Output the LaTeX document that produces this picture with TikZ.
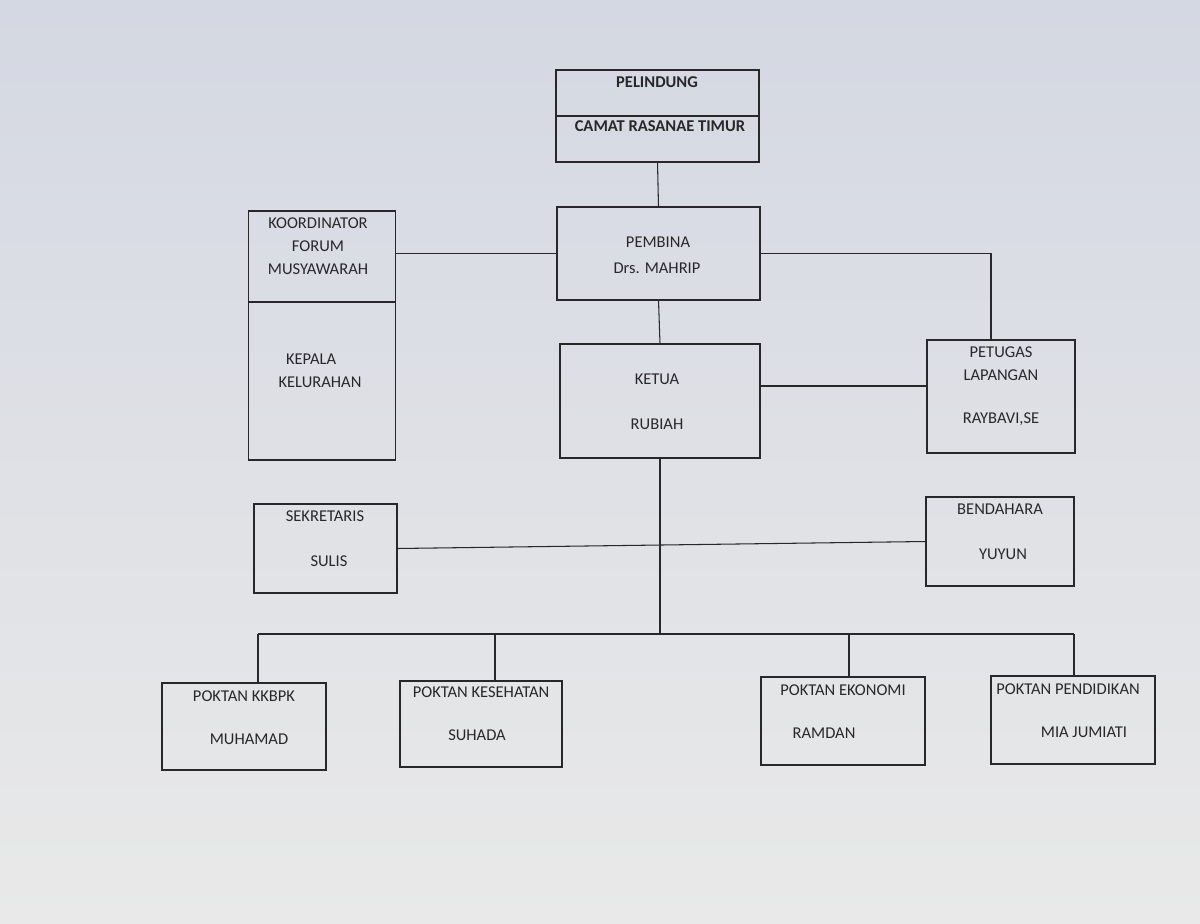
\documentclass[tikz,border=0pt]{standalone}
\usepackage{fontspec}
\setmainfont{Carlito}
\usepackage{tikz}
\usetikzlibrary{positioning}
\definecolor{screen}{RGB}{226,228,234}
\definecolor{screentop}{RGB}{212,216,226}
\definecolor{screenbot}{RGB}{233,233,233}
\definecolor{ink}{RGB}{40,40,42}
\tikzset{unit/.style={draw=ink,line width=0.75pt,inner sep=0pt,outer sep=0pt},
         unitthick/.style={unit,line width=1.4pt},
         lbl/.style={inner sep=0pt,text=ink,font=\fontsize{9.4}{13}\selectfont},
         lblbold/.style={lbl,font=\fontsize{9.4}{13}\selectfont\bfseries},
         link/.style={draw=ink,line width=0.6pt},
        }

\begin{document}
\begin{tikzpicture}[x=0.02cm,y=-0.02cm]
        \useasboundingbox[top color=screentop,bottom color=screenbot](0,0) rectangle (1200,923);

        % top of the chart
        \node[unit,minimum width=4.06cm,minimum height=1.84cm](pel)at(657.5,116){};
        \draw[link,line width=0.75pt](pel.west)--(pel.east);
        \node[lblbold](pelA)at(657,82){PELINDUNG};
        \node[lblbold](pelB)at(660,126){CAMAT RASANAE TIMUR};

        \node[unit,minimum width=4.06cm,minimum height=1.86cm](pem)at(658.5,253.5){};
        \node[lbl](pemA)at(658,242){PEMBINA};
        \node[lbl](pemB)at(657,268){Drs. MAHRIP};

        \node[unit,minimum width=2.94cm,minimum height=1.82cm](koord)at(322,256.5){};
        \node[unit,minimum width=2.94cm,minimum height=3.16cm,below=0pt of koord](kep){};
        \node[lbl,align=center](koordA)at(318,246){KOORDINATOR\\FORUM\\MUSYAWARAH};
        \node[lbl,align=left](kepA)at(320,371){\hspace*{0.15cm}KEPALA\\KELURAHAN};

        \node[unit,minimum width=4cm,minimum height=2.28cm](ket)at(660,401){};
        \node[lbl](ketA)at(657,379){KETUA};
        \node[lbl](ketB)at(657,424){RUBIAH};

        \node[unit,minimum width=2.96cm,minimum height=2.26cm](pet)at(1001,396.5){};
        \node[lbl,align=center](petA)at(1001,364){PETUGAS\\LAPANGAN};
        \node[lbl](petB)at(1001,419){RAYBAVI,SE};

        \node[unitthick,minimum width=2.86cm,minimum height=1.78cm](sek)at(325.5,548.5){};
        \node[lbl](sekA)at(325,516){SEKRETARIS};
        \node[lbl](sekB)at(329,561){SULIS};

        \node[unitthick,minimum width=2.96cm,minimum height=1.78cm](bend)at(1000,541.5){};
        \node[lbl](bendA)at(1000,509){BENDAHARA};
        \node[lbl](bendB)at(1003,554){YUYUN};

        % poktan row
        \node[unitthick,minimum width=3.28cm,minimum height=1.74cm](kk)at(244,726.5){};
        \node[lbl](kkA)at(244,696){POKTAN KKBPK};
        \node[lbl](kkB)at(249,739){MUHAMAD};

        \node[unitthick,minimum width=3.24cm,minimum height=1.72cm](kes)at(481,724){};
        \node[lbl](kesA)at(481,692){POKTAN KESEHATAN};
        \node[lbl](kesB)at(477,735){SUHADA};

        \node[unitthick,minimum width=3.28cm,minimum height=1.76cm](eko)at(843,721){};
        \node[lbl](ekoA)at(843,690){POKTAN EKONOMI};
        \node[lbl](ekoB)at(824,733){RAMDAN};

        \node[unitthick,minimum width=3.28cm,minimum height=1.76cm](pend)at(1073,720){};
        \node[lbl](pendA)at(1068,689){POKTAN PENDIDIKAN};
        \node[lbl](pendB)at(1084,732){MIA JUMIATI};

        % lines
        \draw[link](pel.south)--(pem.north);
        \draw[link](pem.south)--(ket.north);
        \draw[link](pem.west)--(pem.west -| koord.east);
        \draw[link](pem.east)-|([xshift=-0.2cm]pet.north);
        \draw[link]([yshift=0.3cm]ket.east)--([yshift=0.3cm]ket.east -| pet.west);
        \draw[link](sek.east)--(bend.west);

        \coordinate(bus)at(660,634);
        \coordinate(tapA)at(258,634);
        \coordinate(tapB)at(495,634);
        \coordinate(tapC)at(849,634);
        \coordinate(tapD)at(1074,634);
        \draw[link](ket.south)--(bus);
        \draw[link](tapA)--(tapD);
        \foreach \t/\b in {tapA/kk,tapB/kes,tapC/eko,tapD/pend}
            \draw[link](\t)--(\t |- \b.north);
\end{tikzpicture}
\end{document}
